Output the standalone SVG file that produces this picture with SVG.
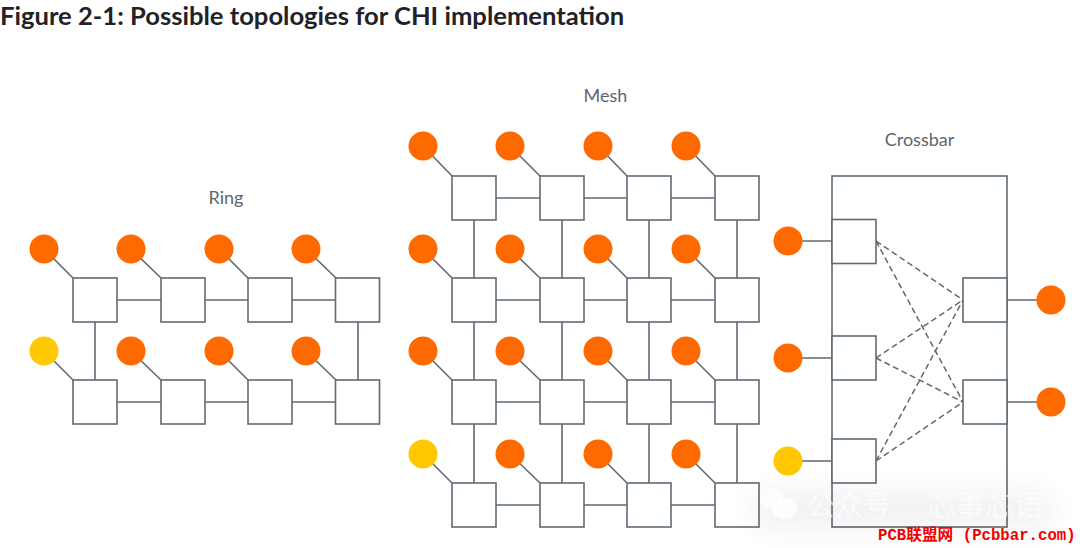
<svg xmlns="http://www.w3.org/2000/svg" xmlns:xlink="http://www.w3.org/1999/xlink" width="1080" height="548" viewBox="0 0 1080 548">
<style>
.n{fill:#fff;stroke:#5f6a74;stroke-width:1.6}
.o{fill:#ff6a00}
.y{fill:#ffc800}
.c{stroke:#5f6a74;stroke-width:1.6;fill:none}
.d{stroke:#5f6a74;stroke-width:1.5;fill:none;stroke-dasharray:6 3.5}
.l{font-family:Lato,"Liberation Sans",sans-serif;font-size:18px;fill:#5b6670;text-anchor:middle}
</style>
<defs>
<rect id="s" width="44" height="44" class="n"/>
<circle id="co" r="14.5" class="o"/>
<circle id="cy" r="14.5" class="y"/>
<filter id="b" x="-30%" y="-60%" width="160%" height="220%"><feGaussianBlur stdDeviation="14"/></filter>
</defs>
<rect width="1080" height="548" fill="#fff"/>
<text x="0" y="25" font-family="Lato,'Liberation Sans',sans-serif" font-weight="700" font-size="25.6px" fill="#1f2226">Figure 2-1: Possible topologies for CHI implementation</text>
<text x="226" y="204" class="l">Ring</text>
<text x="605.500" y="102" class="l">Mesh</text>
<text x="919.500" y="146" class="l">Crossbar</text>
<g id="connectors">
<path class="c" d="M44 249L73 278M131 249L161 278M219 249L248 278M306 249L336 278M44 351L73 380M131 351L161 380M219 351L248 380M306 351L336 380"/>
<path class="c" d="M117 300H161M205 300H248M292 300H336M117 402H161M205 402H248M292 402H336M95 322V380M358 322V380"/>
<path class="c" d="M423 146L452 176M510 146L540 176M598 146L627 176M686 146L715 176M423 249L452 278M510 249L540 278M598 249L627 278M686 249L715 278M423 351L452 380M510 351L540 380M598 351L627 380M686 351L715 380M423 454L452 483M510 454L540 483M598 454L627 483M686 454L715 483"/>
<path class="c" d="M496 198H540M584 198H627M671 198H715M496 300H540M584 300H627M671 300H715M496 402H540M584 402H627M671 402H715M496 505H540M584 505H627M671 505H715"/>
<path class="c" d="M474 220V278M562 220V278M649 220V278M737 220V278M474 322V380M562 322V380M649 322V380M737 322V380M474 424V483M562 424V483M649 424V483M737 424V483"/>
<rect class="c" x="832" y="176" width="175" height="351"/>
<path class="c" d="M802 241H832M802 358H832M802 461H832M1007 300H1037M1007 402H1037"/>
<path class="d" d="M876 241L963 300M876 241L963 402M876 358L963 300M876 358L963 402M876 461L963 300M876 461L963 402"/>
</g>
<g id="ring-nodes">
<g id="r1"><use xlink:href="#s" x="73" y="278"/></g><g id="r2"><use xlink:href="#s" x="161" y="278"/></g><g id="r3"><use xlink:href="#s" x="248" y="278"/></g><g id="r4"><use xlink:href="#s" x="335.500" y="278"/></g>
<g id="r5"><use xlink:href="#s" x="73" y="380"/></g><g id="r6"><use xlink:href="#s" x="161" y="380"/></g><g id="r7"><use xlink:href="#s" x="248" y="380"/></g><g id="r8"><use xlink:href="#s" x="335.500" y="380"/></g>
<g id="rc1"><use xlink:href="#co" x="44" y="249"/></g><g id="rc2"><use xlink:href="#co" x="131" y="249"/></g><g id="rc3"><use xlink:href="#co" x="219" y="249"/></g><g id="rc4"><use xlink:href="#co" x="306" y="249"/></g>
<g id="rc5"><use xlink:href="#cy" x="44" y="351"/></g><g id="rc6"><use xlink:href="#co" x="131" y="351"/></g><g id="rc7"><use xlink:href="#co" x="219" y="351"/></g><g id="rc8"><use xlink:href="#co" x="306" y="351"/></g>
</g>
<g id="mesh-nodes">
<g id="m1"><use xlink:href="#s" x="452" y="176"/></g><g id="m2"><use xlink:href="#s" x="540" y="176"/></g><g id="m3"><use xlink:href="#s" x="627" y="176"/></g><g id="m4"><use xlink:href="#s" x="715" y="176"/></g>
<g id="m5"><use xlink:href="#s" x="452" y="278"/></g><g id="m6"><use xlink:href="#s" x="540" y="278"/></g><g id="m7"><use xlink:href="#s" x="627" y="278"/></g><g id="m8"><use xlink:href="#s" x="715" y="278"/></g>
<g id="m9"><use xlink:href="#s" x="452" y="380"/></g><g id="m10"><use xlink:href="#s" x="540" y="380"/></g><g id="m11"><use xlink:href="#s" x="627" y="380"/></g><g id="m12"><use xlink:href="#s" x="715" y="380"/></g>
<g id="m13"><use xlink:href="#s" x="452" y="483"/></g><g id="m14"><use xlink:href="#s" x="540" y="483"/></g><g id="m15"><use xlink:href="#s" x="627" y="483"/></g><g id="m16"><use xlink:href="#s" x="715" y="483"/></g>
<g id="mc1"><use xlink:href="#co" x="423" y="146"/></g><g id="mc2"><use xlink:href="#co" x="510" y="146"/></g><g id="mc3"><use xlink:href="#co" x="598" y="146"/></g><g id="mc4"><use xlink:href="#co" x="686" y="146"/></g>
<g id="mc5"><use xlink:href="#co" x="423" y="249"/></g><g id="mc6"><use xlink:href="#co" x="510" y="249"/></g><g id="mc7"><use xlink:href="#co" x="598" y="249"/></g><g id="mc8"><use xlink:href="#co" x="686" y="249"/></g>
<g id="mc9"><use xlink:href="#co" x="423" y="351"/></g><g id="mc10"><use xlink:href="#co" x="510" y="351"/></g><g id="mc11"><use xlink:href="#co" x="598" y="351"/></g><g id="mc12"><use xlink:href="#co" x="686" y="351"/></g>
<g id="mc13"><use xlink:href="#cy" x="423" y="454"/></g><g id="mc14"><use xlink:href="#co" x="510" y="454"/></g><g id="mc15"><use xlink:href="#co" x="598" y="454"/></g><g id="mc16"><use xlink:href="#co" x="686" y="454"/></g>
</g>
<g id="crossbar-nodes">
<g id="x1"><use xlink:href="#s" x="832" y="219.500"/></g><g id="x2"><use xlink:href="#s" x="832" y="336"/></g><g id="x3"><use xlink:href="#s" x="832" y="439"/></g><g id="x4"><use xlink:href="#s" x="963" y="278"/></g><g id="x5"><use xlink:href="#s" x="963" y="380"/></g>
<g id="xc1"><use xlink:href="#co" x="788" y="241"/></g><g id="xc2"><use xlink:href="#co" x="788" y="358"/></g><g id="xc3"><use xlink:href="#cy" x="788" y="461"/></g><g id="xc4"><use xlink:href="#co" x="1051" y="300"/></g><g id="xc5"><use xlink:href="#co" x="1051" y="402"/></g>
</g>
<g id="watermark">
<rect x="750" y="490" width="305" height="40" rx="20" fill="#000" opacity="0.05" filter="url(#b)"/>
<ellipse cx="771.500" cy="499" rx="11.500" ry="10.500" fill="#fff" opacity="0.7"/>
<ellipse cx="784.500" cy="508.500" rx="12.500" ry="10.500" fill="#fff" opacity="0.8"/>
<text x="807" y="516" font-family="'Noto Sans CJK SC',sans-serif" font-size="28px" fill="#fff" opacity="0.6">公众号</text>
<text x="927" y="516" font-family="'Noto Sans CJK SC',sans-serif" font-size="29px" fill="#fff" opacity="0.6">芯事芯语</text>
</g>
<text x="878" y="540" font-family="'Liberation Mono','Noto Sans CJK SC',monospace" font-size="15.7px" font-weight="700" fill="#f00000">PCB联盟网 (Pcbbar.com)</text>
</svg>
